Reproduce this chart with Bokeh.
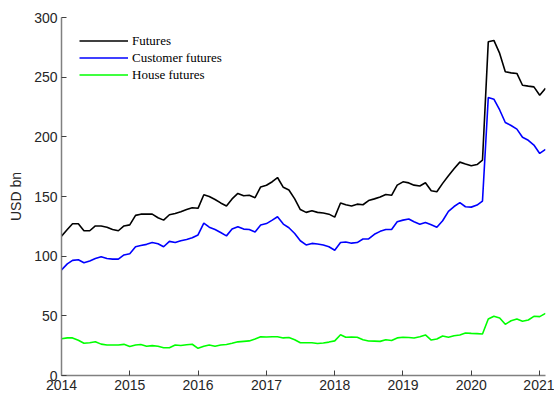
import pandas as pd
from bokeh.plotting import figure
from bokeh.models import Range1d, FixedTicker, DatetimeTickFormatter, ColumnDataSource
from bokeh.embed import file_html
from bokeh.resources import INLINE

# Monthly observations, Jan 2014 .. Feb 2021 (USD bn)
start_month = "2014-01-01"
n_months = 86

futures = [116.8, 122.3, 127.2, 127.2, 121.3, 121.3, 125.3, 125.3, 124.3, 122.3, 121.3, 125.3,
           126.2, 134.2, 135.2, 135.2, 135.2, 132.2, 130.2, 134.7, 135.7, 137.2, 139.1, 140.6,
           140.1, 151.5, 150.0, 147.5, 144.6, 142.1, 148.0, 152.6, 150.6, 151.0, 149.0, 158.0,
           159.4, 162.4, 165.9, 157.7, 155.4, 148.0, 139.1, 136.7, 138.1, 136.7, 136.2, 135.2,
           132.7, 144.6, 143.1, 142.1, 143.6, 143.1, 146.6, 148.0, 149.5, 151.7, 151.0, 159.5,
           162.3, 161.4, 159.5, 158.8, 161.5, 154.8, 154.0, 161.0, 167.4, 173.3, 178.8, 177.3,
           175.8, 176.8, 180.4, 279.6, 280.8, 269.9, 254.5, 253.6, 253.1, 243.2, 242.5, 241.9,
           234.9, 240.6]

customer_futures = [88.4, 93.5, 96.5, 97.0, 94.5, 96.0, 98.0, 99.5, 98.0, 97.5, 97.5, 101.0,
                    102.0, 107.9, 108.9, 109.9, 111.4, 110.4, 107.9, 112.4, 111.4, 112.9, 113.9, 115.4,
                    117.8, 127.7, 124.3, 122.3, 119.8, 117.0, 122.7, 124.7, 122.7, 122.3, 120.3, 126.1,
                    127.3, 130.2, 133.0, 126.9, 123.8, 119.0, 112.9, 109.4, 110.7, 110.2, 109.4, 107.9,
                    105.0, 111.4, 111.9, 110.9, 111.4, 114.4, 114.4, 118.3, 120.8, 122.3, 122.3, 128.8,
                    130.2, 131.2, 128.8, 126.7, 128.3, 126.3, 124.3, 129.7, 137.6, 141.6, 144.8, 141.4,
                    141.1, 142.8, 146.2, 232.9, 231.5, 222.5, 212.0, 209.5, 206.5, 199.6, 197.1, 193.1,
                    186.1, 189.5]

house_futures = [30.8, 31.5, 31.5, 29.5, 27.0, 27.5, 28.3, 26.3, 25.5, 25.5, 25.5, 26.1,
                 24.3, 25.5, 26.0, 24.5, 25.0, 24.5, 23.3, 23.3, 25.5, 25.2, 25.8, 26.2,
                 22.8, 24.5, 25.5, 24.5, 25.5, 26.0, 27.0, 28.2, 28.6, 29.0, 30.5, 32.4,
                 32.2, 32.5, 32.5, 31.5, 31.8, 30.0, 27.5, 27.5, 27.5, 26.8, 27.3, 28.0,
                 29.0, 34.2, 32.0, 32.3, 32.0, 30.0, 28.9, 28.8, 28.6, 30.0, 29.3, 31.5,
                 32.0, 31.8, 31.4, 32.5, 34.0, 29.7, 30.6, 33.1, 32.0, 33.3, 33.9, 35.6,
                 35.3, 35.1, 34.8, 47.3, 49.6, 48.2, 42.9, 45.9, 47.3, 45.4, 46.5, 49.6,
                 49.3, 52.1]

year_ticks = [2014, 2015, 2016, 2017, 2018, 2019, 2020, 2021]
y_ticks = [0, 50, 100, 150, 200, 250, 300]

dates = pd.date_range(start_month, periods=n_months, freq="MS")
src = ColumnDataSource(dict(date=dates, fut=futures, cust=customer_futures, house=house_futures))

p = figure(width=554, height=399, x_axis_type="datetime",
           output_backend="svg", toolbar_location=None,
           min_border_left=61, min_border_right=9, min_border_top=17, min_border_bottom=24)
p.x_range = Range1d(dates[0], dates[-1])
p.y_range = Range1d(0, 300)

p.line("date", "fut", source=src, color="#000000", line_width=1.6, legend_label="Futures")
p.line("date", "cust", source=src, color="#0000ff", line_width=1.6, legend_label="Customer futures")
p.line("date", "house", source=src, color="#00ff00", line_width=1.6, legend_label="House futures")

p.xaxis.ticker = FixedTicker(ticks=[pd.Timestamp(f"{y}-01-01").value / 1e6 for y in year_ticks])
p.xaxis.formatter = DatetimeTickFormatter(years="%Y", months="%Y", days="%Y", hours="%Y")
p.yaxis.ticker = FixedTicker(ticks=y_ticks)
p.yaxis.axis_label = "USD bn"

for ax in (p.xaxis[0], p.yaxis[0]):
    ax.axis_line_color = "#808080"
    ax.axis_line_width = 1.5
    ax.major_tick_line_color = "#404040"
    ax.major_tick_in = 5
    ax.major_tick_out = 0
    ax.minor_tick_line_color = None
    ax.major_label_text_font = "Liberation Sans"
    ax.major_label_text_font_size = "14px"
    ax.major_label_text_color = "#262626"
    ax.major_label_standoff = 4

p.yaxis.axis_label_text_font = "Liberation Sans"
p.yaxis.axis_label_text_font_size = "14px"
p.yaxis.axis_label_text_font_style = "normal"
p.yaxis.axis_label_text_color = "#262626"
p.yaxis.axis_label_standoff = 7

p.xgrid.visible = False
p.ygrid.visible = False
p.outline_line_color = None

lg = p.legend[0]
lg.location = (18, 292)
lg.margin = 0
lg.padding = 0
lg.spacing = 0
lg.glyph_width = 49
lg.glyph_height = 17
lg.label_height = 17
lg.label_standoff = 4
lg.label_text_font = "Liberation Serif"
lg.label_text_font_size = "13px"
lg.label_text_color = "#000000"
lg.border_line_alpha = 0
lg.background_fill_alpha = 0

open("out.html", "w").write(file_html(p, INLINE))
